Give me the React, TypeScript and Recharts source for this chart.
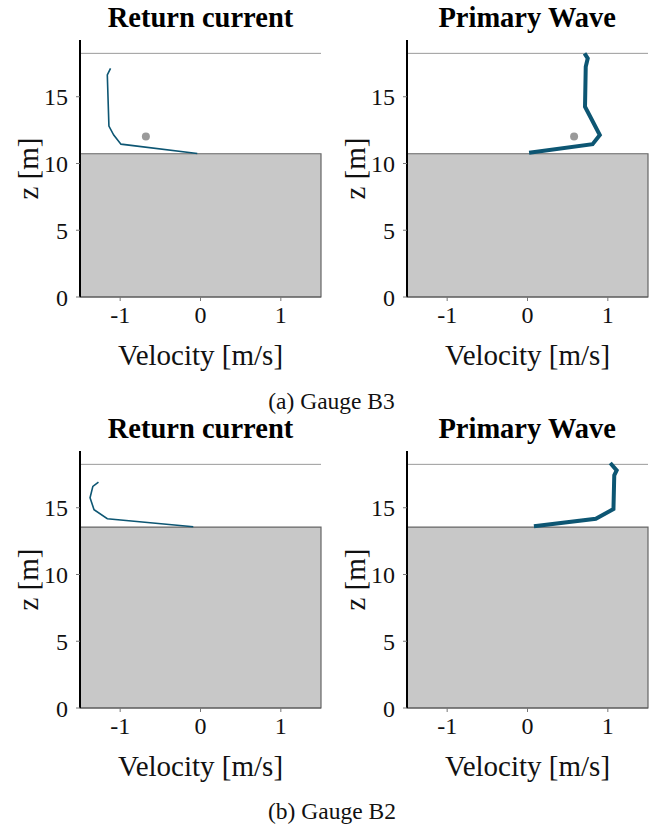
import {
  ComposedChart,
  Line,
  ReferenceArea,
  ReferenceDot,
  ReferenceLine,
  XAxis,
  YAxis,
} from "recharts";

// velocity profiles (u in m/s, z in m)
const returnB3U = [-1.12, -1.16, -1.14, -1.08, -0.99, -0.04];
const returnB3Z = [17.13, 16.63, 12.8, 12.13, 11.45, 10.75];
const primaryB3U = [0.71, 0.75, 0.725, 0.716, 0.77, 0.9, 0.81, 0.02];
const primaryB3Z = [18.25, 17.88, 17.25, 14.25, 13.63, 12.13, 11.45, 10.8];
const returnB2U = [-1.27, -1.34, -1.375, -1.325, -1.16, -0.09];
const returnB2Z = [16.92, 16.6, 15.75, 14.85, 14.18, 13.58];
const primaryB2U = [1.03, 1.11, 1.08, 1.07, 0.85, 0.08];
const primaryB2Z = [18.35, 17.8, 17.43, 14.9, 14.18, 13.62];

// measured points (gray dots), only for gauge B3
const dotReturnB3 = [-0.68, 12.03];
const dotPrimaryB3 = [0.58, 12.03];

const bedB3 = 10.73;
const bedB2 = 13.55;
const waterLevel = 18.25;

const xTicks = [-1, 0, 1];
const yTicks = [0, 5, 10, 15];
const xDomain: [number, number] = [-1.5, 1.5];
const yDomain: [number, number] = [0, 19.25];

const FONT = "'Liberation Serif', 'Times New Roman', serif";
const LINE_COLOR = "#0d5673";

function toRows(u: number[], z: number[]) {
  return u.map((v, i) => ({ u: v, z: z[i] }));
}

type PanelProps = {
  title: string;
  u: number[];
  z: number[];
  bed: number;
  thick?: boolean;
  dot?: number[];
  left: number;
  top: number;
};

function Panel({ title, u, z, bed, thick, dot, left, top }: PanelProps) {
  const data = toRows(u, z);
  return (
    <div style={{ position: "absolute", left, top, width: 328, height: 380 }}>
      <div
        style={{
          position: "absolute",
          left: 80,
          width: 241,
          top: 2,
          textAlign: "center",
          fontFamily: FONT,
          fontWeight: "bold",
          fontSize: 28.5,
          lineHeight: "32px",
          color: "#000",
          whiteSpace: "nowrap",
        }}
      >
        {title}
      </div>
      <ComposedChart
        width={328}
        height={380}
        data={data}
        margin={{ top: 40, right: 7, bottom: 0, left: 10 }}
      >
        <XAxis
          type="number"
          dataKey="u"
          domain={xDomain}
          ticks={xTicks}
          allowDataOverflow
          height={83}
          axisLine={{ stroke: "#555" }}
          tickLine={{ stroke: "#777" }}
          tickSize={4}
          tickMargin={5}
          tick={{ fill: "#111", fontSize: 24, fontFamily: FONT }}
          label={{
            content: ({ viewBox }: any) => (
              <text
                x={viewBox.x + viewBox.width / 2}
                y={viewBox.y + 68}
                textAnchor="middle"
                fontFamily={FONT}
                fontSize={29}
                fill="#111"
              >
                Velocity [m/s]
              </text>
            ),
          }}
        />
        <YAxis
          type="number"
          domain={yDomain}
          ticks={yTicks}
          allowDataOverflow
          width={70}
          axisLine={{ stroke: "#000", strokeWidth: 2 }}
          tickLine={{ stroke: "#777" }}
          tickSize={4}
          tickMargin={8}
          tick={{ fill: "#111", fontSize: 24, fontFamily: FONT }}
          label={{
            content: ({ viewBox }: any) => {
              const cx = 28;
              const cy = viewBox.y + viewBox.height / 2;
              return (
                <text
                  x={cx}
                  y={cy}
                  transform={`rotate(-90 ${cx} ${cy})`}
                  textAnchor="middle"
                  dominantBaseline="central"
                  fontFamily={FONT}
                  fontSize={29}
                  fill="#111"
                >
                  z [m]
                </text>
              );
            },
          }}
        />
        <ReferenceArea
          x1={xDomain[0]}
          x2={xDomain[1]}
          y1={0}
          y2={bed}
          fill="#c8c8c8"
          fillOpacity={1}
          stroke="#666"
          strokeWidth={1.2}
          ifOverflow="visible"
        />
        <ReferenceLine y={waterLevel} stroke="#9a9a9a" strokeWidth={1} />
        {dot && (
          <ReferenceDot
            x={dot[0]}
            y={dot[1]}
            r={4}
            fill="#9a9a9a"
            stroke="none"
          />
        )}
        <Line
          dataKey="z"
          stroke={LINE_COLOR}
          strokeWidth={thick ? 4 : 1.6}
          dot={false}
          activeDot={false}
          isAnimationActive={false}
        />
      </ComposedChart>
    </div>
  );
}

export default function App() {
  return (
    <div
      style={{
        position: "absolute",
        left: 0,
        top: 0,
        width: 656,
        height: 828,
        background: "#fff",
        fontFamily: FONT,
      }}
    >
      <Panel title="Return current" u={returnB3U} z={returnB3Z} bed={bedB3} dot={dotReturnB3} left={0} top={0} />
      <Panel title="Primary Wave" u={primaryB3U} z={primaryB3Z} bed={bedB3} dot={dotPrimaryB3} thick left={326.7} top={0} />
      <div
        style={{
          position: "absolute",
          left: 0,
          width: 663,
          top: 388,
          textAlign: "center",
          fontSize: 23.5,
          lineHeight: "27px",
          color: "#111",
        }}
      >
        (a) Gauge B3
      </div>
      <Panel title="Return current" u={returnB2U} z={returnB2Z} bed={bedB2} left={0} top={410.7} />
      <Panel title="Primary Wave" u={primaryB2U} z={primaryB2Z} bed={bedB2} thick left={326.7} top={410.7} />
      <div
        style={{
          position: "absolute",
          left: 0,
          width: 664,
          top: 798,
          textAlign: "center",
          fontSize: 23.5,
          lineHeight: "27px",
          color: "#111",
        }}
      >
        (b) Gauge B2
      </div>
    </div>
  );
}
